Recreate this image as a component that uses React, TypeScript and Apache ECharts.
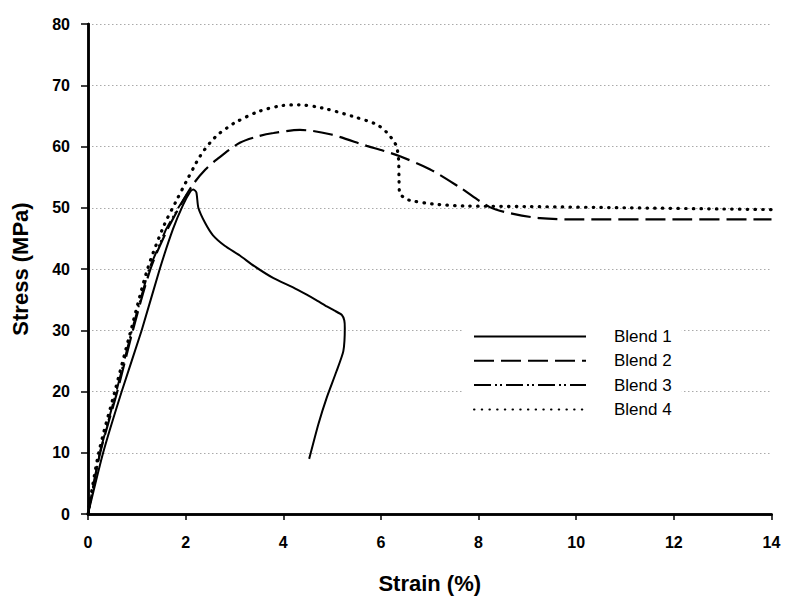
import React, { useEffect, useRef } from "react";
import * as echarts from "echarts";

// Stress–strain curves (strain in %, stress in MPa)
const blend1Strain = [0, 0.31, 0.69, 1.1, 1.47, 1.74, 1.95, 2.1, 2.16, 2.22, 2.26, 2.4, 2.56, 2.8, 3.11, 3.4, 3.8, 4.2, 4.48, 4.7, 4.89, 5.05, 5.2, 5.25, 5.26, 5.23, 5.09, 4.89, 4.72, 4.53];
const blend1Stress = [0, 10, 20, 30, 40, 46.5, 50.5, 52.7, 53, 52.5, 50, 47.5, 45.5, 43.8, 42.2, 40.5, 38.5, 37, 35.8, 34.8, 33.9, 33.2, 32.5, 31.6, 30.4, 26.6, 23.3, 19, 14.7, 9];

const blend2Strain = [0, 0.25, 0.6, 0.92, 1.28, 1.6, 1.9, 2.16, 2.4, 2.64, 3.11, 3.5, 3.8, 4.34, 4.96, 5.71, 6.05, 6.39, 7.0, 7.62, 8.23, 8.71, 9.26, 10, 12, 14];
const blend2Stress = [0, 10, 20, 30, 40, 46, 50.5, 53.9, 56.2, 57.9, 60.6, 61.7, 62.2, 62.7, 62.0, 60.1, 59.3, 58.4, 56.3, 53.3, 50.1, 49.0, 48.3, 48.1, 48.1, 48.1];

const blend3Strain = [0, 0.24, 0.58, 0.9, 1.25, 1.6, 1.85, 2.05];
const blend3Stress = [0, 10, 20, 30, 40, 46.5, 50, 52.5];

const blend4Strain = [0, 0.22, 0.55, 0.88, 1.22, 1.55, 1.8, 2.02, 2.18, 2.27, 2.38, 2.52, 2.67, 2.84, 3.01, 3.49, 4.0, 4.31, 4.79, 5.43, 5.91, 6.12, 6.25, 6.32, 6.36, 6.37, 6.38, 6.5, 6.6, 7.07, 7.69, 9, 11, 13, 14];
const blend4Stress = [0, 10, 20, 30, 40, 47, 51, 54.4, 56.8, 58.1, 59.4, 60.8, 62, 63.0, 63.9, 65.7, 66.7, 66.8, 66.3, 64.9, 63.6, 62.3, 61, 60, 58, 55, 52.5, 51.5, 51.2, 50.6, 50.3, 50.2, 50.0, 49.8, 49.7];

const seriesNames = ["Blend 1", "Blend 2", "Blend 3", "Blend 4"];

const xTicks = { min: 0, max: 14, interval: 2 };
const yTicks = { min: 0, max: 80, interval: 10 };

const zip = (xs: number[], ys: number[]) => xs.map((x, i) => [x, ys[i]]);

const FONT = "'Liberation Sans', Arial, sans-serif";
const FRAME = { color: "#000", width: 2.5 };

export default function App() {
  const ref = useRef<HTMLDivElement>(null);

  useEffect(() => {
    if (!ref.current) return;
    const chart = echarts.init(ref.current, undefined, { renderer: "svg" });

    const lineStyles: any[] = [
      { type: "solid", width: 2 },
      { type: [20, 7], width: 2.2 },
      { type: [17, 4, 2, 3, 2, 4], width: 2 },
      { type: [0.5, 7.2], width: 3.2, cap: "round" },
    ];
    const smoothing = [0.2, 0.3, 0, 0.3];
    const datasets = [
      zip(blend1Strain, blend1Stress),
      zip(blend2Strain, blend2Stress),
      zip(blend3Strain, blend3Stress),
      zip(blend4Strain, blend4Stress),
    ];

    // frame-only axes for the top and right edges of the plot box
    const frameAxis = {
      type: "value",
      axisLine: { show: true, lineStyle: FRAME },
      axisTick: { show: false },
      axisLabel: { show: false },
      splitLine: { show: false },
      z: 5,
    };

    chart.setOption({
      animation: false,
      backgroundColor: "#fff",
      grid: { left: 88, top: 24, right: 13.5, bottom: 82 },
      legend: {
        orient: "vertical",
        left: 463,
        top: 322,
        padding: [6, 10, 6, 10],
        backgroundColor: "#fff",
        itemWidth: 112,
        itemHeight: 14,
        itemGap: 7.3,
        data: seriesNames,
        itemStyle: { opacity: 0 },
        textStyle: {
          fontFamily: FONT,
          fontSize: 17,
          color: "#000",
          padding: [0, 0, 0, 23],
        },
      },
      xAxis: [
        {
          type: "value",
          min: xTicks.min,
          max: xTicks.max,
          interval: xTicks.interval,
          name: "Strain (%)",
          nameLocation: "middle",
          nameGap: 58,
          nameTextStyle: { fontFamily: FONT, fontSize: 22, fontWeight: "bold", color: "#000" },
          axisLine: { lineStyle: FRAME },
          axisTick: { show: true, length: 6, lineStyle: { color: "#000", width: 1.5 } },
          axisLabel: { fontFamily: FONT, fontSize: 16, fontWeight: "bold", color: "#000", margin: 20 },
          splitLine: { show: false },
          z: 5,
        },
        { ...frameAxis, position: "top", min: xTicks.min, max: xTicks.max },
      ],
      yAxis: [
        {
          type: "value",
          min: yTicks.min,
          max: yTicks.max,
          interval: yTicks.interval,
          name: "Stress (MPa)",
          nameLocation: "middle",
          nameGap: 57,
          nameTextStyle: { fontFamily: FONT, fontSize: 22, fontWeight: "bold", color: "#000" },
          axisLine: { lineStyle: FRAME },
          axisTick: { show: true, length: 7, lineStyle: { color: "#000", width: 1.5 } },
          axisLabel: { fontFamily: FONT, fontSize: 16, fontWeight: "bold", color: "#000", margin: 18 },
          splitLine: { show: true, lineStyle: { color: "#aaa", width: 1, type: [1.5, 2.5] } },
        },
        { ...frameAxis, position: "right", min: yTicks.min, max: yTicks.max },
      ],
      series: seriesNames.map((name, i) => ({
        name,
        type: "line",
        data: datasets[i],
        xAxisIndex: 0,
        yAxisIndex: 0,
        symbol: "none",
        showSymbol: false,
        smooth: smoothing[i],
        color: "#000",
        lineStyle: { color: "#000", ...lineStyles[i] },
      })),
    });

    return () => chart.dispose();
  }, []);

  return (
    <div
      ref={ref}
      style={{ position: "fixed", left: 0, top: 0, width: 785, height: 599 }}
    />
  );
}
